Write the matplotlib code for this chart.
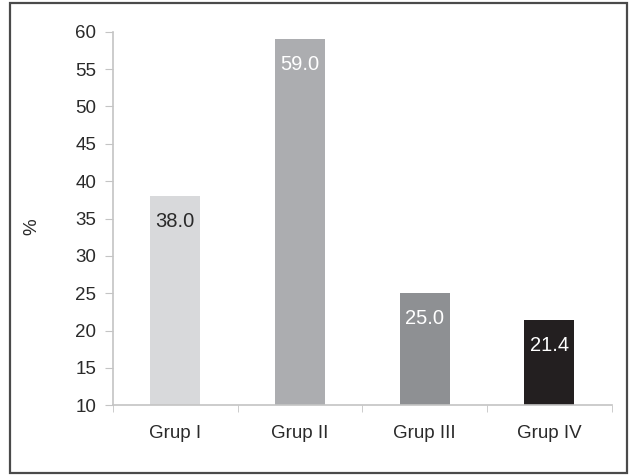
import matplotlib.pyplot as plt
from matplotlib.patches import Rectangle
from matplotlib.ticker import FixedLocator

plt.rcParams['font.family'] = ['Liberation Sans', 'DejaVu Sans']

# percentages per group
groups = ["Grup I", "Grup II", "Grup III", "Grup IV"]
values = [38.0, 59.0, 25.0, 21.4]
bar_colors = ["#d8d9db", "#acadb0", "#8e9093", "#231f20"]
label_colors = ["#2a2a2a", "white", "white", "white"]

fig = plt.figure(figsize=(6.3, 4.75), dpi=100)
ax = fig.add_axes([0.179, 0.147, 0.792, 0.786])

x = range(len(groups))
bars = ax.bar(x, values, width=0.4, color=bar_colors, zorder=2)

# value labels just under the top of each bar
for b, v, c in zip(bars, values, label_colors):
    ax.annotate(f"{v:.1f}", xy=(b.get_x() + b.get_width() / 2, v),
                xytext=(0, -18), textcoords="offset points",
                ha="center", va="center", fontsize=14.5, color=c)

ax.set_ylim(10, 60)
ax.set_xlim(-0.5, 3.5)
ax.set_yticks(range(10, 61, 5))
ax.set_xticks(list(x))
ax.set_xticklabels(groups)
ax.xaxis.set_minor_locator(FixedLocator([-0.5, 0.5, 1.5, 2.5, 3.5]))

ax.set_ylabel("%", fontsize=13.5, color="#2a2a2a")
ax.yaxis.set_label_coords(-0.146, 0.477)

for side in ("top", "right"):
    ax.spines[side].set_visible(False)
for side in ("left", "bottom"):
    ax.spines[side].set_color("#c4c4c4")
    ax.spines[side].set_linewidth(1.2)

ax.tick_params(axis="y", direction="out", length=6, color="#c4c4c4",
               labelsize=13.5, labelcolor="#2a2a2a", pad=6)
ax.tick_params(axis="x", which="major", length=0, labelsize=13.5,
               labelcolor="#2a2a2a", pad=14)
ax.tick_params(axis="x", which="minor", direction="out", length=5,
               color="#c4c4c4")

# outer frame around the whole figure
fig.patches.append(Rectangle((10 / 630, 2 / 475), 617 / 630, 470 / 475,
                             transform=fig.transFigure, fill=False,
                             edgecolor="#4a4a4a", linewidth=1.6))

fig.savefig("out.png", dpi=100)
